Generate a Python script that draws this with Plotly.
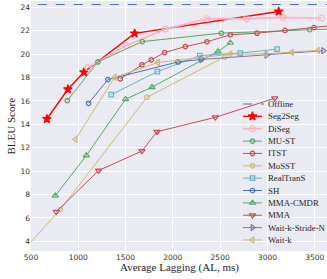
import plotly.graph_objects as go

# ---------------- data ----------------
offline_bleu = 24.25

seg2seg_al = [668, 890, 1059, 1596, 3119]
seg2seg_bleu = [14.46, 17.0, 18.46, 21.78, 23.65]

diseg_al = [1102, 1508, 1920, 2361, 2778, 3165, 3571]
diseg_bleu = [18.86, 20.74, 22.15, 23.03, 23.03, 23.14, 23.09]

must_al = [884, 1207, 1677, 2513, 3447, 3900]
must_bleu = [16.03, 19.34, 21.08, 21.8, 22.09, 22.2]

itst_al = [1444, 1673, 1772, 1913, 2132, 2361, 2608, 2890, 3186, 3493, 3800]
itst_bleu = [17.89, 19.09, 19.52, 20.14, 20.65, 21.06, 21.66, 21.8, 22.03, 22.28, 22.55]

mosst_al = [450, 810, 1726, 2549]
mosst_bleu = [3.5, 6.72, 16.32, 19.77]

realtrans_al = [1349, 1836, 2286, 2712, 3101]
realtrans_bleu = [16.54, 18.51, 19.88, 20.1, 20.43]

sh_al = [1109, 1313, 2054, 2300]
sh_bleu = [15.8, 17.83, 19.34, 19.55]

mmacmdr_al = [757, 1085, 1500, 1779, 2477, 2608]
mmacmdr_bleu = [7.89, 11.34, 16.15, 17.18, 20.23, 20.97]

mma_al = [767, 1215, 1673, 1832, 2449, 3077]
mma_bleu = [6.52, 10.05, 11.72, 13.37, 14.6, 16.23]

waitk_stride_al = [2300, 2990, 3590]
waitk_stride_bleu = [19.55, 19.92, 20.3]

waitk_al = [971, 1385, 1843, 2608, 2983, 3258, 3535]
waitk_bleu = [12.72, 18.03, 19.29, 20.0, 20.03, 20.16, 20.33]

x_ticks = [500, 1000, 1500, 2000, 2500, 3000, 3500]
y_ticks = [4, 6, 8, 10, 12, 14, 16, 18, 20, 22, 24]

# ---------------- styles ----------------
BLUE = "#4C72B0"; GREEN = "#55A868"; RED = "#C44E52"; PURPLE = "#8172B2"
TAN = "#CCB974"; CYAN = "#64B5CD"; PINK = "#FFB6C1"; BRIGHT = "#FF0000"

series = [
    # name, x, y, color, symbol, msize, lwidth
    ("Offline", [0, 5000], [offline_bleu, offline_bleu], BLUE, None, 0, 1.2),
    ("Seg2Seg", seg2seg_al, seg2seg_bleu, BRIGHT, "star", 6.5, 1.4),
    ("DiSeg", diseg_al, diseg_bleu, PINK, "circle-open", 6, 1.8),
    ("MU-ST", must_al, must_bleu, GREEN, "circle-open", 4.5, 1.0),
    ("ITST", itst_al, itst_bleu, RED, "circle-open", 4.5, 1.0),
    ("MoSST", mosst_al, mosst_bleu, TAN, "circle-open", 4.5, 1.0),
    ("RealTranS", realtrans_al, realtrans_bleu, CYAN, "square-open", 4.5, 1.0),
    ("SH", sh_al, sh_bleu, BLUE, "circle-open", 4.5, 1.0),
    ("MMA-CMDR", mmacmdr_al, mmacmdr_bleu, GREEN, "triangle-up-open", 5.5, 1.0),
    ("MMA", mma_al, mma_bleu, RED, "triangle-down-open", 5.5, 1.0),
    ("Wait-k-Stride-N", waitk_stride_al, waitk_stride_bleu, PURPLE, "triangle-right-open", 5.5, 1.0),
    ("Wait-k", waitk_al, waitk_bleu, TAN, "triangle-left-open", 5.5, 1.0),
]

fig = go.Figure()
for name, xs, ys, col, sym, ms, lw in series:
    if sym is None:
        fig.add_trace(go.Scatter(x=xs, y=ys, mode="lines", name=name,
                                 line=dict(color=col, width=lw, dash="dash"), showlegend=False))
    else:
        fig.add_trace(go.Scatter(x=xs, y=ys, mode="lines+markers", name=name,
                                 line=dict(color=col, width=lw),
                                 marker=dict(symbol=sym, size=ms, color=col,
                                             line=dict(color=col, width=1.2)),
                                 showlegend=False))

# ---------------- compact legend drawn on overlay pixel axes ----------------
L_X0, L_X1, L_XM, L_TX = 243, 262, 252.5, 267
row0, row_step = 104, 12.36
for i, (name, xs, ys, col, sym, ms, lw) in enumerate(series):
    yy = row0 + i * row_step
    if sym is None:
        fig.add_trace(go.Scatter(x=[L_X0, L_X1 + 2], y=[yy, yy], mode="lines",
                                 line=dict(color=col, width=lw, dash="dash"),
                                 xaxis="x2", yaxis="y2", showlegend=False, hoverinfo="skip"))
    else:
        fig.add_trace(go.Scatter(x=[L_X0, L_X1], y=[yy, yy], mode="lines",
                                 line=dict(color=col, width=lw),
                                 xaxis="x2", yaxis="y2", showlegend=False, hoverinfo="skip"))
        fig.add_trace(go.Scatter(x=[L_XM], y=[yy], mode="markers",
                                 marker=dict(symbol=sym, size=ms, color=col,
                                             line=dict(color=col, width=1.2)),
                                 xaxis="x2", yaxis="y2", showlegend=False, hoverinfo="skip"))
    fig.add_annotation(x=L_TX, y=yy, xref="x2", yref="y2", text=name, showarrow=False,
                       xanchor="left", yanchor="middle", borderpad=0,
                       font=dict(family="Liberation Serif", size=8.8, color="#262626"))

# axis titles
fig.add_annotation(x=0.5, y=-0.066, xref="paper", yref="paper",
                   text="Average Lagging (AL, ms)", showarrow=False,
                   xanchor="center", yanchor="middle",
                   font=dict(family="Liberation Serif", size=11, color="#262626"))
fig.add_annotation(x=-0.066, y=0.5, xref="paper", yref="paper", text="BLEU Score",
                   showarrow=False, textangle=-90, xanchor="center", yanchor="middle",
                   font=dict(family="Liberation Serif", size=11, color="#262626"))

fig.update_layout(
    width=327, height=279,
    margin=dict(l=31, r=0, t=1, b=28),
    paper_bgcolor="white", plot_bgcolor="#EAEAF2",
    xaxis=dict(range=[500, 3630], tickvals=x_ticks, showgrid=True, gridcolor="white",
               gridwidth=1, zeroline=False, showline=False, ticks="",
               tickfont=dict(family="DejaVu Sans", size=7.5, color="#333333")),
    yaxis=dict(range=[3.17, 24.55], tickvals=y_ticks, showgrid=True, gridcolor="white",
               gridwidth=1, zeroline=False, showline=False, ticks="",
               tickfont=dict(family="DejaVu Sans", size=7.5, color="#333333")),
    xaxis2=dict(overlaying="x", anchor="y2", range=[31, 327], visible=False),
    yaxis2=dict(overlaying="y", anchor="x2", range=[251, 1], visible=False),
)

fig.write_html("out.html", config={"displayModeBar": False},
               post_script="document.body.style.margin='0';document.body.style.overflow='hidden';")
